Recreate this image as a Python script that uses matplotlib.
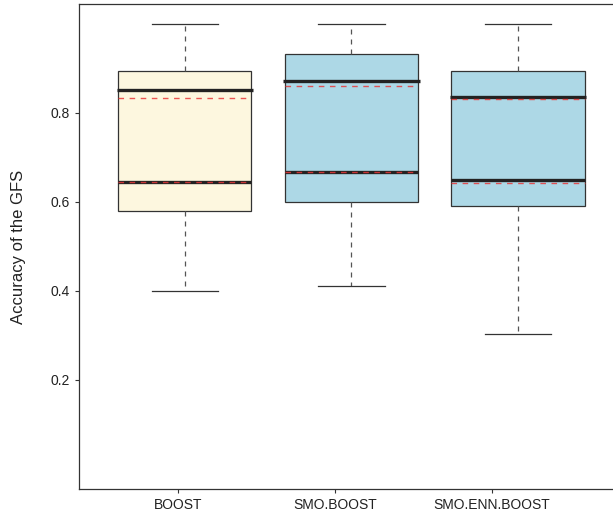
import matplotlib.pyplot as plt

plt.rcParams['font.family'] = ['Liberation Sans', 'DejaVu Sans']

# datos
metodos = ["BOOST", "SMO.BOOST", "SMO.ENN.BOOST"]
colores = ["#fdf7df", "#add8e6", "#add8e6"]
minimo = [0.400, 0.411, 0.303]
q1 = [0.580, 0.600, 0.591]
q3 = [0.894, 0.933, 0.894]
maximo = [1.000, 1.000, 1.000]
linea_sup = [0.852, 0.871, 0.835]   # líneas negras gruesas
linea_inf = [0.645, 0.667, 0.648]
roja_sup = [0.833, 0.861, 0.831]    # líneas discontinuas rojas
roja_inf = [0.644, 0.667, 0.642]

pos = [1, 2, 3]
pos_ticks = [0.958, 1.904, 2.844]
ancho = 0.8

fig = plt.figure(figsize=(6.13, 5.15), dpi=100)
ax = fig.add_axes([0.129, 0.0505, 0.871, 0.9415])

stats = []
for i in range(3):
    stats.append({"whislo": minimo[i], "q1": q1[i], "med": linea_inf[i],
                  "q3": q3[i], "whishi": maximo[i], "fliers": []})

bp = ax.bxp(stats, positions=pos, widths=ancho, patch_artist=True,
            capwidths=ancho / 2,
            boxprops=dict(edgecolor="#333333", linewidth=0.9),
            whiskerprops=dict(color="#555555", linestyle=(0, (4, 4)), linewidth=0.9),
            capprops=dict(color="#333333", linewidth=0.9),
            medianprops=dict(color="#222222", linewidth=2.4))
for caja, c in zip(bp["boxes"], colores):
    caja.set_facecolor(c)

# segunda línea negra
ax.hlines(linea_sup, [p - ancho / 2 - 0.01 for p in pos], [p + ancho / 2 + 0.01 for p in pos],
          color="#222222", linewidth=2.4, zorder=4)
# líneas rojas discontinuas
ax.hlines(roja_sup + roja_inf, [p - ancho / 2 for p in pos] * 2, [p + ancho / 2 for p in pos] * 2,
          color="#e8393a", linestyle=(0, (4, 4)), linewidth=1.0, alpha=0.85, zorder=5)

ax.set_xlim(0.365, 3.57)
ax.set_ylim(-0.045, 1.044)
ax.set_xticks(pos_ticks)
ax.set_xticklabels(metodos, fontsize=10, color="#222222")
ax.set_yticks([0.2, 0.4, 0.6, 0.8])
ax.set_yticklabels(["0.2", "0.4", "0.6", "0.8"], fontsize=10, color="#222222")
ax.tick_params(length=3, color="#333333")
ax.set_ylabel("Accuracy of the GFS", fontsize=12, color="#222222", labelpad=18)
ax.spines["right"].set_visible(False)
for s in ["left", "top", "bottom"]:
    ax.spines[s].set_color("#333333")
    ax.spines[s].set_linewidth(0.9)

fig.savefig("out.png", dpi=100)
